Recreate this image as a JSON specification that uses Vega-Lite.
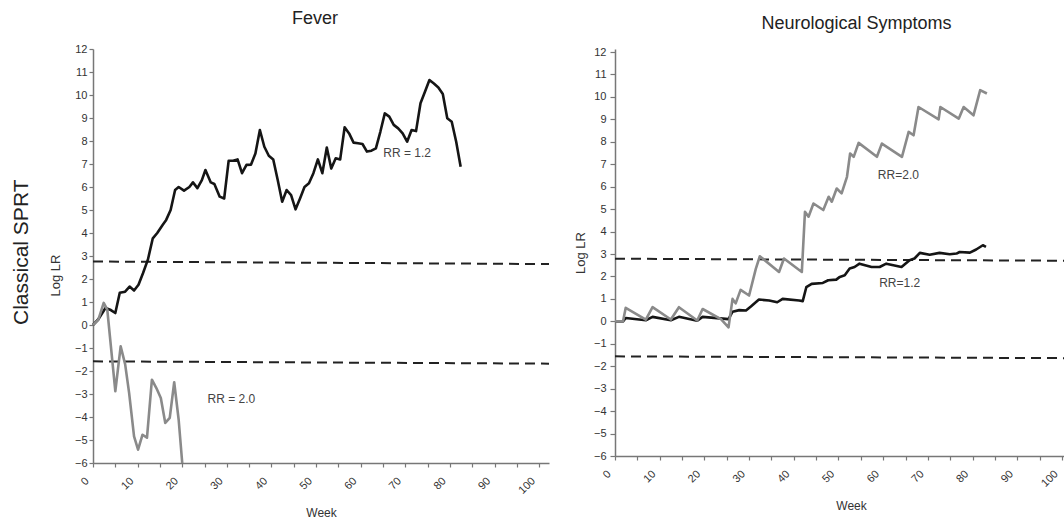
{
  "$schema": "https://vega.github.io/schema/vega-lite/v6.json",
  "padding": {"left": 11, "top": 10, "right": 0, "bottom": 0},
  "background": "white",
  "title": {"text": "Classical SPRT", "orient": "left", "anchor": "middle", "fontSize": 21, "fontWeight": "normal", "font": "Liberation Sans", "color": "#222", "offset": 17, "dx": 12},
  "spacing": 24,
  "config": {
    "view": {"stroke": null},
    "font": "Liberation Sans",
    "axis": {"grid": false, "domainColor": "#777", "domainWidth": 1.5, "tickColor": "#777", "tickWidth": 1.2, "labelFont": "Liberation Sans", "labelFontSize": 11, "labelColor": "#333", "titleFont": "Liberation Sans", "titleFontWeight": "normal", "titleColor": "#333", "labelFlush": false, "labelOverlap": false},
    "title": {"font": "Liberation Sans", "fontWeight": "normal", "fontSize": 18, "color": "#222"}
  },
  "datasets": {
    "fever": [
      {"week": 0, "llr": 0, "rr": "RR=1.2"},
      {"week": 1.2, "llr": 0.25, "rr": "RR=1.2"},
      {"week": 2.8, "llr": 0.74, "rr": "RR=1.2"},
      {"week": 4, "llr": 0.65, "rr": "RR=1.2"},
      {"week": 5, "llr": 0.52, "rr": "RR=1.2"},
      {"week": 6, "llr": 1.4, "rr": "RR=1.2"},
      {"week": 7.2, "llr": 1.45, "rr": "RR=1.2"},
      {"week": 8.2, "llr": 1.67, "rr": "RR=1.2"},
      {"week": 9.2, "llr": 1.5, "rr": "RR=1.2"},
      {"week": 10.2, "llr": 1.75, "rr": "RR=1.2"},
      {"week": 11.2, "llr": 2.25, "rr": "RR=1.2"},
      {"week": 12.3, "llr": 2.84, "rr": "RR=1.2"},
      {"week": 13.4, "llr": 3.77, "rr": "RR=1.2"},
      {"week": 14.4, "llr": 4.0, "rr": "RR=1.2"},
      {"week": 15.6, "llr": 4.35, "rr": "RR=1.2"},
      {"week": 16.4, "llr": 4.57, "rr": "RR=1.2"},
      {"week": 17.4, "llr": 5.0, "rr": "RR=1.2"},
      {"week": 18.4, "llr": 5.87, "rr": "RR=1.2"},
      {"week": 19.2, "llr": 6.0, "rr": "RR=1.2"},
      {"week": 20.4, "llr": 5.84, "rr": "RR=1.2"},
      {"week": 21.6, "llr": 6.0, "rr": "RR=1.2"},
      {"week": 22.4, "llr": 6.2, "rr": "RR=1.2"},
      {"week": 23.4, "llr": 5.95, "rr": "RR=1.2"},
      {"week": 24.4, "llr": 6.3, "rr": "RR=1.2"},
      {"week": 25.2, "llr": 6.74, "rr": "RR=1.2"},
      {"week": 26.4, "llr": 6.2, "rr": "RR=1.2"},
      {"week": 27.2, "llr": 6.13, "rr": "RR=1.2"},
      {"week": 28.4, "llr": 5.58, "rr": "RR=1.2"},
      {"week": 29.4, "llr": 5.5, "rr": "RR=1.2"},
      {"week": 30.4, "llr": 7.14, "rr": "RR=1.2"},
      {"week": 31.4, "llr": 7.14, "rr": "RR=1.2"},
      {"week": 32.4, "llr": 7.2, "rr": "RR=1.2"},
      {"week": 33.4, "llr": 6.6, "rr": "RR=1.2"},
      {"week": 34.4, "llr": 6.96, "rr": "RR=1.2"},
      {"week": 35.4, "llr": 6.97, "rr": "RR=1.2"},
      {"week": 36.4, "llr": 7.46, "rr": "RR=1.2"},
      {"week": 37.4, "llr": 8.48, "rr": "RR=1.2"},
      {"week": 38.4, "llr": 7.75, "rr": "RR=1.2"},
      {"week": 39.4, "llr": 7.36, "rr": "RR=1.2"},
      {"week": 40.4, "llr": 7.2, "rr": "RR=1.2"},
      {"week": 41.4, "llr": 6.3, "rr": "RR=1.2"},
      {"week": 42.4, "llr": 5.36, "rr": "RR=1.2"},
      {"week": 43.4, "llr": 5.87, "rr": "RR=1.2"},
      {"week": 44.4, "llr": 5.65, "rr": "RR=1.2"},
      {"week": 45.4, "llr": 5.03, "rr": "RR=1.2"},
      {"week": 46.4, "llr": 5.5, "rr": "RR=1.2"},
      {"week": 47.4, "llr": 6.0, "rr": "RR=1.2"},
      {"week": 48.4, "llr": 6.16, "rr": "RR=1.2"},
      {"week": 49.4, "llr": 6.6, "rr": "RR=1.2"},
      {"week": 50.4, "llr": 7.2, "rr": "RR=1.2"},
      {"week": 51.4, "llr": 6.6, "rr": "RR=1.2"},
      {"week": 52.4, "llr": 7.72, "rr": "RR=1.2"},
      {"week": 53.4, "llr": 6.8, "rr": "RR=1.2"},
      {"week": 54.4, "llr": 7.25, "rr": "RR=1.2"},
      {"week": 55.4, "llr": 7.2, "rr": "RR=1.2"},
      {"week": 56.4, "llr": 8.6, "rr": "RR=1.2"},
      {"week": 57.4, "llr": 8.33, "rr": "RR=1.2"},
      {"week": 58.4, "llr": 7.93, "rr": "RR=1.2"},
      {"week": 59.4, "llr": 7.9, "rr": "RR=1.2"},
      {"week": 60.4, "llr": 7.87, "rr": "RR=1.2"},
      {"week": 61.4, "llr": 7.54, "rr": "RR=1.2"},
      {"week": 62.4, "llr": 7.58, "rr": "RR=1.2"},
      {"week": 63.4, "llr": 7.68, "rr": "RR=1.2"},
      {"week": 64.4, "llr": 8.4, "rr": "RR=1.2"},
      {"week": 65.4, "llr": 9.2, "rr": "RR=1.2"},
      {"week": 66.4, "llr": 9.06, "rr": "RR=1.2"},
      {"week": 67.4, "llr": 8.7, "rr": "RR=1.2"},
      {"week": 68.4, "llr": 8.55, "rr": "RR=1.2"},
      {"week": 69.4, "llr": 8.33, "rr": "RR=1.2"},
      {"week": 70.4, "llr": 7.97, "rr": "RR=1.2"},
      {"week": 71.4, "llr": 8.48, "rr": "RR=1.2"},
      {"week": 72.4, "llr": 8.43, "rr": "RR=1.2"},
      {"week": 73.4, "llr": 9.64, "rr": "RR=1.2"},
      {"week": 74.4, "llr": 10.14, "rr": "RR=1.2"},
      {"week": 75.4, "llr": 10.65, "rr": "RR=1.2"},
      {"week": 76.4, "llr": 10.5, "rr": "RR=1.2"},
      {"week": 77.4, "llr": 10.33, "rr": "RR=1.2"},
      {"week": 78.4, "llr": 10.04, "rr": "RR=1.2"},
      {"week": 79.4, "llr": 8.99, "rr": "RR=1.2"},
      {"week": 80.4, "llr": 8.84, "rr": "RR=1.2"},
      {"week": 81.4, "llr": 7.97, "rr": "RR=1.2"},
      {"week": 82.4, "llr": 6.88, "rr": "RR=1.2"},
      {"week": 0, "llr": 0, "rr": "RR=2.0"},
      {"week": 1.2, "llr": 0.23, "rr": "RR=2.0"},
      {"week": 2.4, "llr": 0.96, "rr": "RR=2.0"},
      {"week": 3.2, "llr": 0.67, "rr": "RR=2.0"},
      {"week": 5, "llr": -2.88, "rr": "RR=2.0"},
      {"week": 6.2, "llr": -0.93, "rr": "RR=2.0"},
      {"week": 7.2, "llr": -1.7, "rr": "RR=2.0"},
      {"week": 8.1, "llr": -2.96, "rr": "RR=2.0"},
      {"week": 9.2, "llr": -4.84, "rr": "RR=2.0"},
      {"week": 10.1, "llr": -5.42, "rr": "RR=2.0"},
      {"week": 11.1, "llr": -4.77, "rr": "RR=2.0"},
      {"week": 12.1, "llr": -4.9, "rr": "RR=2.0"},
      {"week": 13.2, "llr": -2.38, "rr": "RR=2.0"},
      {"week": 14.2, "llr": -2.74, "rr": "RR=2.0"},
      {"week": 15.2, "llr": -3.17, "rr": "RR=2.0"},
      {"week": 16.2, "llr": -4.26, "rr": "RR=2.0"},
      {"week": 17.2, "llr": -4.04, "rr": "RR=2.0"},
      {"week": 18.2, "llr": -2.49, "rr": "RR=2.0"},
      {"week": 19.2, "llr": -4.12, "rr": "RR=2.0"},
      {"week": 20, "llr": -6, "rr": "RR=2.0"}
    ],
    "neuro": [
      {"week": 0, "llr": 0, "rr": "RR=1.2"},
      {"week": 1.8, "llr": 0, "rr": "RR=1.2"},
      {"week": 2.4, "llr": 0.15, "rr": "RR=1.2"},
      {"week": 6.9, "llr": 0.05, "rr": "RR=1.2"},
      {"week": 8.4, "llr": 0.2, "rr": "RR=1.2"},
      {"week": 12.5, "llr": 0.05, "rr": "RR=1.2"},
      {"week": 14.3, "llr": 0.2, "rr": "RR=1.2"},
      {"week": 18.4, "llr": 0.03, "rr": "RR=1.2"},
      {"week": 19.6, "llr": 0.2, "rr": "RR=1.2"},
      {"week": 25.4, "llr": 0.1, "rr": "RR=1.2"},
      {"week": 26.3, "llr": 0.43, "rr": "RR=1.2"},
      {"week": 27.8, "llr": 0.5, "rr": "RR=1.2"},
      {"week": 29.3, "llr": 0.48, "rr": "RR=1.2"},
      {"week": 30.4, "llr": 0.66, "rr": "RR=1.2"},
      {"week": 32.2, "llr": 0.97, "rr": "RR=1.2"},
      {"week": 34.5, "llr": 0.93, "rr": "RR=1.2"},
      {"week": 36.3, "llr": 0.85, "rr": "RR=1.2"},
      {"week": 37.5, "llr": 1.0, "rr": "RR=1.2"},
      {"week": 41.2, "llr": 0.93, "rr": "RR=1.2"},
      {"week": 42, "llr": 0.9, "rr": "RR=1.2"},
      {"week": 42.8, "llr": 1.52, "rr": "RR=1.2"},
      {"week": 44, "llr": 1.67, "rr": "RR=1.2"},
      {"week": 46.5, "llr": 1.71, "rr": "RR=1.2"},
      {"week": 47.7, "llr": 1.83, "rr": "RR=1.2"},
      {"week": 49.5, "llr": 1.86, "rr": "RR=1.2"},
      {"week": 50.3, "llr": 1.98, "rr": "RR=1.2"},
      {"week": 51.4, "llr": 2.05, "rr": "RR=1.2"},
      {"week": 52.5, "llr": 2.35, "rr": "RR=1.2"},
      {"week": 53.6, "llr": 2.42, "rr": "RR=1.2"},
      {"week": 54.7, "llr": 2.57, "rr": "RR=1.2"},
      {"week": 57.4, "llr": 2.42, "rr": "RR=1.2"},
      {"week": 59.2, "llr": 2.42, "rr": "RR=1.2"},
      {"week": 60.7, "llr": 2.57, "rr": "RR=1.2"},
      {"week": 64.1, "llr": 2.42, "rr": "RR=1.2"},
      {"week": 65.9, "llr": 2.72, "rr": "RR=1.2"},
      {"week": 67, "llr": 2.8, "rr": "RR=1.2"},
      {"week": 68.2, "llr": 3.05, "rr": "RR=1.2"},
      {"week": 70.4, "llr": 2.97, "rr": "RR=1.2"},
      {"week": 72.6, "llr": 3.05, "rr": "RR=1.2"},
      {"week": 74.9, "llr": 2.99, "rr": "RR=1.2"},
      {"week": 76.4, "llr": 3.02, "rr": "RR=1.2"},
      {"week": 77.1, "llr": 3.09, "rr": "RR=1.2"},
      {"week": 79.4, "llr": 3.06, "rr": "RR=1.2"},
      {"week": 80.8, "llr": 3.2, "rr": "RR=1.2"},
      {"week": 82.3, "llr": 3.39, "rr": "RR=1.2"},
      {"week": 83, "llr": 3.32, "rr": "RR=1.2"},
      {"week": 0, "llr": 0, "rr": "RR=2.0"},
      {"week": 1.8, "llr": 0, "rr": "RR=2.0"},
      {"week": 2.4, "llr": 0.6, "rr": "RR=2.0"},
      {"week": 6.9, "llr": 0.08, "rr": "RR=2.0"},
      {"week": 8.4, "llr": 0.63, "rr": "RR=2.0"},
      {"week": 12.5, "llr": 0.08, "rr": "RR=2.0"},
      {"week": 14.3, "llr": 0.63, "rr": "RR=2.0"},
      {"week": 18.4, "llr": 0.04, "rr": "RR=2.0"},
      {"week": 19.6, "llr": 0.55, "rr": "RR=2.0"},
      {"week": 23.7, "llr": 0.1, "rr": "RR=2.0"},
      {"week": 25.4, "llr": -0.27, "rr": "RR=2.0"},
      {"week": 26.3, "llr": 1.0, "rr": "RR=2.0"},
      {"week": 27, "llr": 0.8, "rr": "RR=2.0"},
      {"week": 28.1, "llr": 1.4, "rr": "RR=2.0"},
      {"week": 30, "llr": 1.15, "rr": "RR=2.0"},
      {"week": 31.5, "llr": 2.34, "rr": "RR=2.0"},
      {"week": 32.4, "llr": 2.9, "rr": "RR=2.0"},
      {"week": 36.7, "llr": 2.2, "rr": "RR=2.0"},
      {"week": 37.8, "llr": 2.8, "rr": "RR=2.0"},
      {"week": 41.8, "llr": 2.2, "rr": "RR=2.0"},
      {"week": 42.5, "llr": 4.88, "rr": "RR=2.0"},
      {"week": 43.3, "llr": 4.66, "rr": "RR=2.0"},
      {"week": 44.4, "llr": 5.25, "rr": "RR=2.0"},
      {"week": 46.6, "llr": 4.96, "rr": "RR=2.0"},
      {"week": 47.8, "llr": 5.55, "rr": "RR=2.0"},
      {"week": 48.5, "llr": 5.33, "rr": "RR=2.0"},
      {"week": 49.6, "llr": 5.92, "rr": "RR=2.0"},
      {"week": 50.7, "llr": 5.7, "rr": "RR=2.0"},
      {"week": 51.9, "llr": 6.44, "rr": "RR=2.0"},
      {"week": 52.6, "llr": 7.48, "rr": "RR=2.0"},
      {"week": 53.4, "llr": 7.33, "rr": "RR=2.0"},
      {"week": 54.5, "llr": 7.95, "rr": "RR=2.0"},
      {"week": 58.6, "llr": 7.33, "rr": "RR=2.0"},
      {"week": 59.7, "llr": 7.92, "rr": "RR=2.0"},
      {"week": 64.2, "llr": 7.33, "rr": "RR=2.0"},
      {"week": 65.7, "llr": 8.44, "rr": "RR=2.0"},
      {"week": 66.8, "llr": 8.29, "rr": "RR=2.0"},
      {"week": 67.9, "llr": 9.55, "rr": "RR=2.0"},
      {"week": 72.4, "llr": 9.0, "rr": "RR=2.0"},
      {"week": 72.8, "llr": 9.55, "rr": "RR=2.0"},
      {"week": 76.9, "llr": 9.03, "rr": "RR=2.0"},
      {"week": 78, "llr": 9.55, "rr": "RR=2.0"},
      {"week": 80.2, "llr": 9.18, "rr": "RR=2.0"},
      {"week": 81.7, "llr": 10.3, "rr": "RR=2.0"},
      {"week": 83.2, "llr": 10.15, "rr": "RR=2.0"}
    ],
    "feverB": [
      {"week": 0, "week2": 102.2, "llr": 2.76, "llr2": 2.65},
      {"week": 0, "week2": 102.2, "llr": -1.58, "llr2": -1.68}
    ],
    "neuroB": [
      {"week": 0, "week2": 100.9, "llr": 2.79, "llr2": 2.7},
      {"week": 0, "week2": 100.9, "llr": -1.56, "llr2": -1.64}
    ],
    "feverT": [
      {"week": 70.4, "llr": 7.5, "label": "RR = 1.2"},
      {"week": 31, "llr": -3.22, "label": "RR = 2.0"}
    ],
    "neuroT": [
      {"week": 63.4, "llr": 6.51, "label": "RR=2.0"},
      {"week": 63.7, "llr": 1.7, "label": "RR=1.2"}
    ]
  },
  "hconcat": [
    {
      "width": 456,
      "height": 414,
      "title": {"text": "Fever", "offset": 15, "dx": -6},
      "encoding": {
        "x": {"field": "week", "type": "quantitative", "scale": {"domain": [0, 102.2], "nice": false, "zero": false},
          "axis": {"values": [0,5,10,15,20,25,30,35,40,45,50,55,60,65,70,75,80,85,90,95,100], "labelExpr": "datum.value % 10 === 0 ? datum.label : ''", "labelOverlap": false, "labelAngle": -45, "labelAlign": "right", "labelBaseline": "middle", "labelPadding": 12, "labelOffset": -6, "tickSize": 4, "title": "Week", "titleFontSize": 12, "titlePadding": 12}},
        "y": {"field": "llr", "type": "quantitative", "scale": {"domain": [-6, 12], "nice": false, "zero": false},
          "axis": {"values": [-6,-5,-4,-3,-2,-1,0,1,2,3,4,5,6,7,8,9,10,11,12], "labelOverlap": false, "tickSize": 4, "labelPadding": 2, "title": "Log LR", "titleFontSize": 13, "titlePadding": 12, "titleY": 226}}
      },
      "layer": [
        {
          "data": {"name": "feverB"},
          "mark": {"type": "rule", "strokeDash": [10, 6], "strokeWidth": 2, "color": "#222"},
          "encoding": {
            "x2": {"field": "week2"},
            "y2": {"field": "llr2"}
          }
        },
        {
          "data": {"name": "fever"},
          "mark": {"type": "line", "strokeWidth": 2.6, "strokeJoin": "round"},
          "encoding": {
            "color": {"field": "rr", "type": "nominal", "scale": {"domain": ["RR=1.2", "RR=2.0"], "range": ["#151515", "#8a8a8a"]}, "legend": null}
          }
        },
        {
          "data": {"name": "feverT"},
          "mark": {"type": "text", "fontSize": 12, "font": "Liberation Sans", "color": "#444"},
          "encoding": {
            "text": {"field": "label"}
          }
        }
      ]
    },
    {
      "width": 451,
      "height": 407,
      "title": {"text": "Neurological Symptoms", "offset": 13, "dx": 16},
      "encoding": {
        "x": {"field": "week", "type": "quantitative", "scale": {"domain": [0, 100.9], "nice": false, "zero": false},
          "axis": {"values": [0,5,10,15,20,25,30,35,40,45,50,55,60,65,70,75,80,85,90,95,100], "labelExpr": "datum.value % 10 === 0 ? datum.label : ''", "labelOverlap": false, "labelAngle": -45, "labelAlign": "right", "labelBaseline": "middle", "labelPadding": 12, "labelOffset": -6, "tickSize": 4, "title": "Week", "titleFontSize": 12, "titlePadding": 12, "titleX": 236}},
        "y": {"field": "llr", "type": "quantitative", "scale": {"domain": [-6, 12.134], "nice": false, "zero": false},
          "axis": {"values": [-6,-5,-4,-3,-2,-1,0,1,2,3,4,5,6,7,8,9,10,11,12], "labelOverlap": false, "tickSize": 5, "labelPadding": 4, "title": "Log LR", "titleFontSize": 13, "titlePadding": 6}}
      },
      "layer": [
        {
          "data": {"name": "neuroB"},
          "mark": {"type": "rule", "strokeDash": [10, 6], "strokeWidth": 2, "color": "#222"},
          "encoding": {
            "x2": {"field": "week2"},
            "y2": {"field": "llr2"}
          }
        },
        {
          "data": {"name": "neuro"},
          "mark": {"type": "line", "strokeWidth": 2.6, "strokeJoin": "round"},
          "encoding": {
            "color": {"field": "rr", "type": "nominal", "scale": {"domain": ["RR=1.2", "RR=2.0"], "range": ["#151515", "#8a8a8a"]}, "legend": null}
          }
        },
        {
          "data": {"name": "neuroT"},
          "mark": {"type": "text", "fontSize": 12, "font": "Liberation Sans", "color": "#444"},
          "encoding": {
            "text": {"field": "label"}
          }
        }
      ]
    }
  ]
}
